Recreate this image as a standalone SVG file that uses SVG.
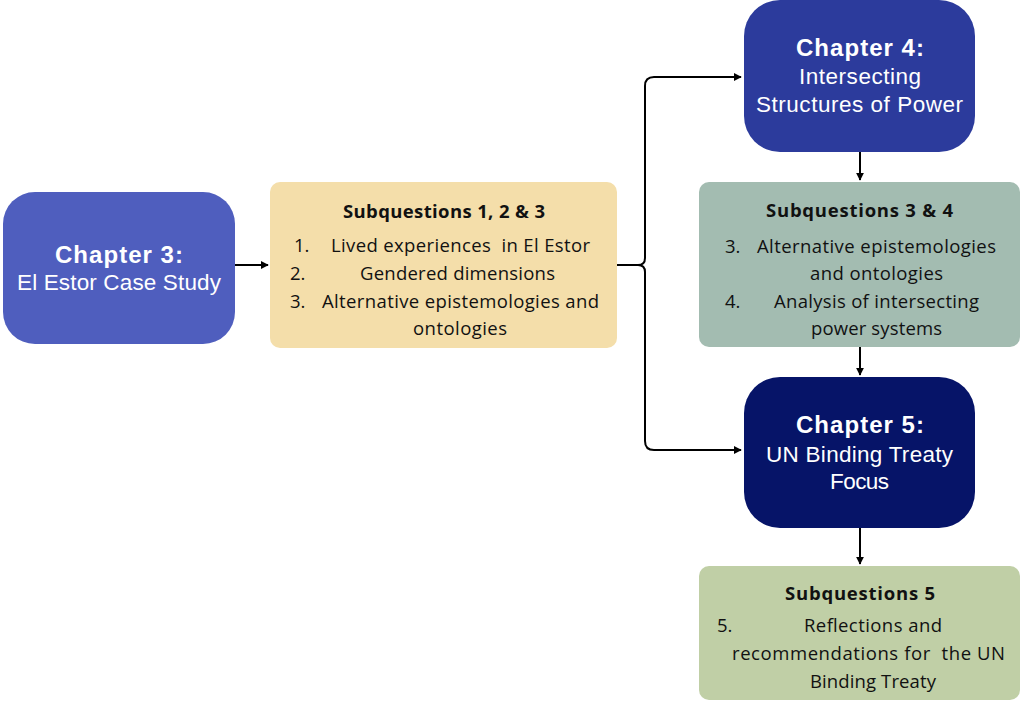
<svg xmlns="http://www.w3.org/2000/svg" width="1020" height="702" viewBox="0 0 1020 702">
  <defs>
    <marker id="arrow" viewBox="0 0 10 10" refX="9" refY="5" markerWidth="4" markerHeight="4" orient="auto-start-reverse">
      <path d="M0,0 L10,5 L0,10 z" fill="#000"/>
    </marker>
    <style>
      text { white-space: pre; }
      .chap-title { font-family: "Liberation Sans", Arial, sans-serif; font-weight: 700; font-size: 24px; fill: #fff; }
      .chap-body { font-family: "Liberation Sans", Arial, sans-serif; font-size: 22.5px; fill: #fff; }
      .sq-title { font-family: "Open Sans", Lato, sans-serif; font-weight: 700; font-size: 18.5px; fill: #111; }
      .sq-body { font-family: "Open Sans", Lato, sans-serif; font-size: 18.5px; fill: #111; }
      .conn { fill: none; stroke: #000; stroke-width: 2; }
    </style>
  </defs>

  <rect width="1020" height="702" fill="#fff"/>

  <!-- connectors -->
  <g id="connectors">
    <path class="conn" d="M235,265 L268,265" marker-end="url(#arrow)"/>
    <path class="conn" d="M617,265 L638,265 Q645,265 645,258 L645,86 Q645,77 654,77 L741,77" marker-end="url(#arrow)"/>
    <path class="conn" d="M638,265 Q645,265 645,272 L645,441 Q645,450 654,450 L741,450" marker-end="url(#arrow)"/>
    <path class="conn" d="M860,152 L860,180" marker-end="url(#arrow)"/>
    <path class="conn" d="M860,347 L860,375" marker-end="url(#arrow)"/>
    <path class="conn" d="M860,528 L860,564" marker-end="url(#arrow)"/>
  </g>

  <!-- Chapter 3 -->
  <g id="chapter3">
    <rect x="3" y="192" width="232" height="152" rx="32" fill="#4F5EBE"/>
    <text class="chap-title" x="55" y="263" textLength="128">Chapter 3:</text>
    <text class="chap-body" x="17" y="290" textLength="204">El Estor Case Study</text>
  </g>

  <!-- Subquestions 1, 2 & 3 -->
  <g id="subq123">
    <rect x="270" y="182" width="347" height="166" rx="10" fill="#F4DEAA"/>
    <text class="sq-title" x="343" y="218" textLength="202">Subquestions 1, 2 &amp; 3</text>
    <text class="sq-body" x="294" y="252">1.</text>
    <text class="sq-body" x="331" y="252" textLength="259">Lived experiences  in El Estor</text>
    <text class="sq-body" x="290" y="280">2.</text>
    <text class="sq-body" x="360" y="280" textLength="195">Gendered dimensions</text>
    <text class="sq-body" x="290" y="308">3.</text>
    <text class="sq-body" x="322" y="308" textLength="277">Alternative epistemologies and</text>
    <text class="sq-body" x="413" y="335" textLength="94">ontologies</text>
  </g>

  <!-- Chapter 4 -->
  <g id="chapter4">
    <rect x="744" y="0" width="231" height="152" rx="36" fill="#2C3B9C"/>
    <text class="chap-title" x="796" y="56" textLength="128">Chapter 4:</text>
    <text class="chap-body" x="799" y="84" textLength="122">Intersecting</text>
    <text class="chap-body" x="756" y="112" textLength="207">Structures of Power</text>
  </g>

  <!-- Subquestions 3 & 4 -->
  <g id="subq34">
    <rect x="699" y="182" width="321" height="165" rx="10" fill="#A3BCB1"/>
    <text class="sq-title" x="766" y="217" textLength="187">Subquestions 3 &amp; 4</text>
    <text class="sq-body" x="725" y="253">3.</text>
    <text class="sq-body" x="757" y="253" textLength="239">Alternative epistemologies</text>
    <text class="sq-body" x="810" y="280" textLength="133">and ontologies</text>
    <text class="sq-body" x="725" y="308">4.</text>
    <text class="sq-body" x="774" y="308" textLength="205">Analysis of intersecting</text>
    <text class="sq-body" x="811" y="335" textLength="131">power systems</text>
  </g>

  <!-- Chapter 5 -->
  <g id="chapter5">
    <rect x="744" y="377" width="231" height="151" rx="36" fill="#061468"/>
    <text class="chap-title" x="796" y="433" textLength="128">Chapter 5:</text>
    <text class="chap-body" x="766" y="462" textLength="187">UN Binding Treaty</text>
    <text class="chap-body" x="830" y="489" textLength="59">Focus</text>
  </g>

  <!-- Subquestions 5 -->
  <g id="subq5">
    <rect x="699" y="566" width="321" height="134" rx="10" fill="#C0CFA6"/>
    <text class="sq-title" x="785" y="600" textLength="150">Subquestions 5</text>
    <text class="sq-body" x="717" y="632">5.</text>
    <text class="sq-body" x="804" y="632" textLength="138">Reflections and</text>
    <text class="sq-body" x="732" y="660" textLength="273">recommendations for  the UN</text>
    <text class="sq-body" x="810" y="688" textLength="126">Binding Treaty</text>
  </g>
</svg>
